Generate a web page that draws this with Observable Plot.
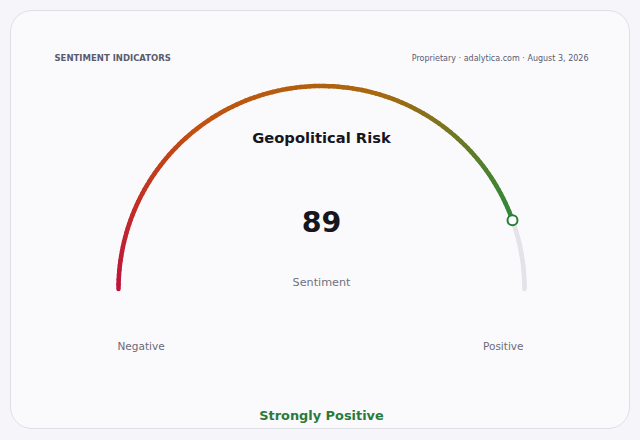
<!DOCTYPE html>
<html><head><meta charset="utf-8">
<script src="https://cdn.jsdelivr.net/npm/d3@7"></script>
<script src="https://cdn.jsdelivr.net/npm/@observablehq/plot@0.6"></script>
<style>
html,body{margin:0;padding:0;background:#f6f6fa;width:640px;height:440px;overflow:hidden;font-family:"DejaVu Sans",sans-serif;}
#card{position:absolute;left:10px;top:10px;width:618px;height:417px;border:1px solid #dfdfe8;border-radius:22px;background:#fafafd;overflow:hidden;}
#card svg{display:block;}
</style></head>
<body><div id="card"></div>
<script>
// Data
const sectionLabel = ["SENTIMENT INDICATORS"];
const sourceLabel = ["Proprietary · adalytica.com · August 3, 2026"];
const indicatorName = ["Geopolitical Risk"];
const indicatorValue = [89];
const valueDomain = [0, 100];
const endLabels = ["Negative", "Positive"];
const unitLabel = ["Sentiment"];
const verdict = ["Strongly Positive"];
const gradientColors = ["#be123c", "#c2520f", "#a8680e", "#2e8a3a"];

const W = 618, H = 417;
const cx = 310, cy = 277.5, R = 203;
const value = indicatorValue[0];
const ang = d3.scaleLinear().domain(valueDomain).range([Math.PI, 0]);
const colorAt = d3.piecewise(d3.interpolateRgb, gradientColors);

const N = 120;
const filled = [], track = [];
for (let i = 0; i < N; i++) {
  const v0 = valueDomain[0] + (value - valueDomain[0]) * i / N;
  const v1 = valueDomain[0] + (value - valueDomain[0]) * (i + 1) / N;
  filled.push({v0, v1, c: colorAt((i + 0.5) / N)});
}
for (let i = 0; i < 20; i++) {
  const v0 = value + (valueDomain[1] - value) * i / 20;
  const v1 = value + (valueDomain[1] - value) * (i + 1) / 20;
  track.push({v0, v1});
}
const px = v => cx + R * Math.cos(ang(v));
const py = v => cy - R * Math.sin(ang(v));

const font = "DejaVu Sans";
const chart = Plot.plot({
  width: W, height: H,
  margin: 0,
  x: {domain: [0, W], range: [0, W], axis: null},
  y: {domain: [0, H], range: [0, H], axis: null},
  style: {background: "transparent", fontFamily: font},
  marks: [
    Plot.link(track, {x1: d => px(d.v0), y1: d => py(d.v0), x2: d => px(d.v1), y2: d => py(d.v1),
      stroke: "#e3e3e8", strokeWidth: 4.5, strokeLinecap: "round"}),
    Plot.link(filled, {x1: d => px(d.v0), y1: d => py(d.v0), x2: d => px(d.v1), y2: d => py(d.v1),
      stroke: d => d.c, strokeWidth: 4.5, strokeLinecap: "round"}),
    Plot.dot(indicatorValue, {x: d => px(d), y: d => py(d), r: 5, fill: "white", stroke: "#2a7d38", strokeWidth: 2}),
    Plot.text(sectionLabel, {x: 43, y: 47, text: d => d, textAnchor: "start", fontSize: 8.5, fontWeight: "bold", fill: "#5b5b6e", fontFamily: font}),
    Plot.text(sourceLabel, {x: 577, y: 47, text: d => d, textAnchor: "end", fontSize: 8, fill: "#5b5b6e", fontFamily: font}),
    Plot.text(indicatorName, {x: cx, y: 127, text: d => d, fontSize: 14.7, fontWeight: "bold", fill: "#16161c", fontFamily: font}),
    Plot.text(indicatorValue, {x: cx, y: 211, text: d => String(d), fontSize: 28.5, fontWeight: "bold", fill: "#16161c", fontFamily: font}),
    Plot.text(unitLabel, {x: cx, y: 271, text: d => d, fontSize: 11.2, fill: "#70707c", fontFamily: font}),
    Plot.text([endLabels[0]], {x: 106, y: 335, text: d => d, textAnchor: "start", fontSize: 10.5, fill: "#6a6a78", fontFamily: font}),
    Plot.text([endLabels[1]], {x: 512, y: 335, text: d => d, textAnchor: "end", fontSize: 10.5, fill: "#6a6a78", fontFamily: font}),
    Plot.text(verdict, {x: cx, y: 404, text: d => d, fontSize: 12.9, fontWeight: "bold", fill: "#2a7a3c", fontFamily: font})
  ]
});
document.getElementById("card").appendChild(chart);
</script></body></html>
